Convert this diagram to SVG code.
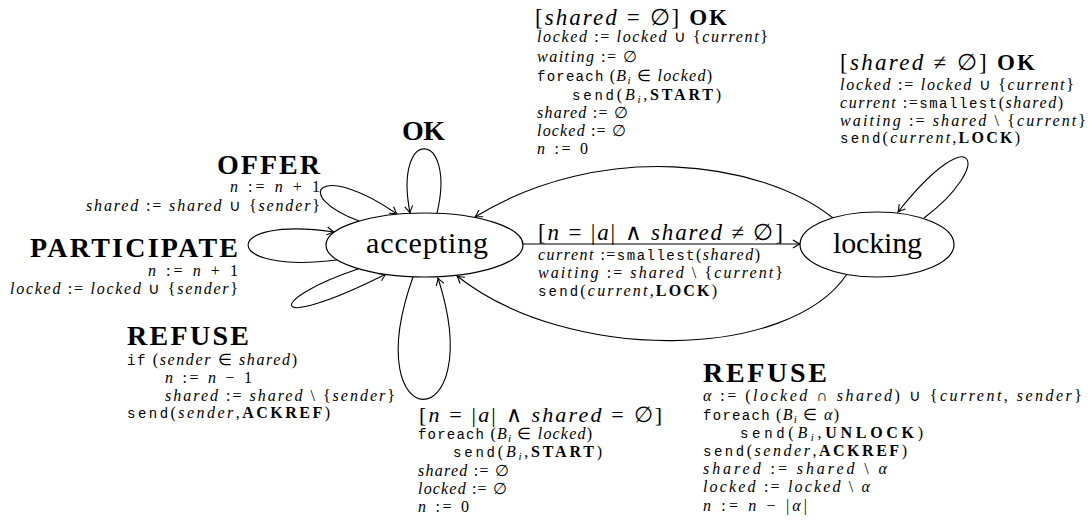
<svg xmlns="http://www.w3.org/2000/svg" width="1092" height="522" viewBox="0 0 1092 522">
<defs>
<style>
.t{font-family:"Liberation Serif",serif;font-size:16px;fill:#000}
.i{font-style:italic}
.tt{font-family:"Liberation Mono",monospace;font-size:14px;font-style:normal}
.bf{font-weight:bold;font-style:normal}
.L{font-size:23px}
.H{font-family:"Liberation Serif",serif;font-size:28px;font-weight:bold;fill:#000}
.nt{font-family:"Liberation Serif",serif;font-size:30px;fill:#000}
.node{fill:#fff;stroke:#000;stroke-width:1.2}
.e{fill:none;stroke:#000;stroke-width:1.1}
.sub{font-size:11px;font-style:italic}
</style>
<marker id="arr" viewBox="-8 -5 10 10" markerWidth="10" markerHeight="10" refX="0" refY="0" orient="auto" markerUnits="userSpaceOnUse" overflow="visible">
<path d="M -7 -4 Q -2.5 -1 0 0 Q -2.5 1 -7 4" fill="none" stroke="#000" stroke-width="1.1"/>
</marker>
</defs>
<rect width="1092" height="522" fill="#fff"/>

<g id="connectors">
<path class="e" d="M 523 244 L 800 244" marker-end="url(#arr)"/>
<path class="e" d="M 833 218 C 760 160, 600 140, 475 217" marker-end="url(#arr)"/>
<path class="e" d="M 847 274 C 790 360, 570 365, 457 276" marker-end="url(#arr)"/>
<path class="e" d="M 924 218 C 995 165, 975 115, 898 212" marker-end="url(#arr)"/>
<path class="e" d="M 437 213 C 457 130, 393 125, 410 213" marker-end="url(#arr)"/>
<path class="e" d="M 359 221 C 290 195, 320 160, 397 214" marker-end="url(#arr)"/>
<path class="e" d="M 337 260 C 219 275, 219 215, 334 232" marker-end="url(#arr)"/>
<path class="e" d="M 358 269 C 265 300, 265 335, 386 274" marker-end="url(#arr)"/>
<path class="e" d="M 413 277 C 355 440, 490 440, 438 278" marker-end="url(#arr)"/>
</g>

<g id="accepting">
<ellipse class="node" cx="424.5" cy="245" rx="98.5" ry="32"/>
<text class="nt" x="366" y="253" textLength="122">accepting</text>
</g>

<g id="locking">
<ellipse class="node" cx="877" cy="244.5" rx="77" ry="32.5"/>
<text class="nt" x="833" y="253" textLength="89">locking</text>
</g>

<g id="label-ok-empty">
<text class="t L" x="535" y="25" textLength="192">[<tspan class="i">shared</tspan> = ∅] <tspan class="bf">OK</tspan></text>
<text class="t" x="537" y="42" textLength="231"><tspan class="i">locked</tspan> := <tspan class="i">locked</tspan> ∪ {<tspan class="i">current</tspan>}</text>
<text class="t" x="537" y="62" textLength="100"><tspan class="i">waiting</tspan> := ∅</text>
<text class="t" x="537" y="81" textLength="175"><tspan class="tt">foreach</tspan> (<tspan class="i">B</tspan><tspan class="sub" dy="3">i</tspan><tspan dy="-3"> ∈ </tspan><tspan class="i">locked</tspan>)</text>
<text class="t" x="572" y="100" textLength="149"><tspan class="tt">send</tspan>(<tspan class="i">B</tspan><tspan class="sub" dy="3">i</tspan><tspan dy="-3">,</tspan><tspan class="bf">START</tspan>)</text>
<text class="t" x="537" y="118" textLength="91"><tspan class="i">shared</tspan> := ∅</text>
<text class="t" x="537" y="136" textLength="89"><tspan class="i">locked</tspan> := ∅</text>
<text class="t" x="537" y="154" textLength="51"><tspan class="i">n</tspan> := 0</text>
</g>

<g id="label-ok-nonempty">
<text class="t L" x="840" y="70" textLength="195">[<tspan class="i">shared</tspan> ≠ ∅] <tspan class="bf">OK</tspan></text>
<text class="t" x="840" y="90" textLength="234"><tspan class="i">locked</tspan> := <tspan class="i">locked</tspan> ∪ {<tspan class="i">current</tspan>}</text>
<text class="t" x="840" y="108" textLength="223"><tspan class="i">current</tspan> :=<tspan class="tt">smallest</tspan>(<tspan class="i">shared</tspan>)</text>
<text class="t" x="840" y="126" textLength="246"><tspan class="i">waiting</tspan> := <tspan class="i">shared</tspan> \ {<tspan class="i">current</tspan>}</text>
<text class="t" x="840" y="143" textLength="180"><tspan class="tt">send</tspan>(<tspan class="i">current</tspan>,<tspan class="bf">LOCK</tspan>)</text>
</g>

<g id="label-lock">
<text class="t L" x="538" y="240" textLength="245">[<tspan class="i">n</tspan> = |<tspan class="i">a</tspan>| ∧ <tspan class="i">shared</tspan> ≠ ∅]</text>
<text class="t" x="538" y="260" textLength="222"><tspan class="i">current</tspan> :=<tspan class="tt">smallest</tspan>(<tspan class="i">shared</tspan>)</text>
<text class="t" x="538" y="278" textLength="245"><tspan class="i">waiting</tspan> := <tspan class="i">shared</tspan> \ {<tspan class="i">current</tspan>}</text>
<text class="t" x="538" y="296" textLength="179"><tspan class="tt">send</tspan>(<tspan class="i">current</tspan>,<tspan class="bf">LOCK</tspan>)</text>
</g>

<g id="label-ok">
<text class="H" x="402" y="140" textLength="43">OK</text>
</g>

<g id="label-offer">
<text class="H" x="320" y="174" text-anchor="end" textLength="103">OFFER</text>
<text class="t" x="320" y="192" text-anchor="end" textLength="90"><tspan class="i">n</tspan> := <tspan class="i">n</tspan> + 1</text>
<text class="t" x="320" y="211" text-anchor="end" textLength="234"><tspan class="i">shared</tspan> := <tspan class="i">shared</tspan> ∪ {<tspan class="i">sender</tspan>}</text>
</g>

<g id="label-participate">
<text class="H" x="238" y="257" text-anchor="end" textLength="208">PARTICIPATE</text>
<text class="t" x="238" y="276" text-anchor="end" textLength="90"><tspan class="i">n</tspan> := <tspan class="i">n</tspan> + 1</text>
<text class="t" x="238" y="294" text-anchor="end" textLength="228"><tspan class="i">locked</tspan> := <tspan class="i">locked</tspan> ∪ {<tspan class="i">sender</tspan>}</text>
</g>

<g id="label-refuse-accepting">
<text class="H" x="127" y="345" textLength="122">REFUSE</text>
<text class="t" x="127" y="365" textLength="170"><tspan class="tt">if</tspan> (<tspan class="i">sender</tspan> ∈ <tspan class="i">shared</tspan>)</text>
<text class="t" x="165" y="383" textLength="87"><tspan class="i">n</tspan> := <tspan class="i">n</tspan> − 1</text>
<text class="t" x="165" y="401" textLength="230"><tspan class="i">shared</tspan> := <tspan class="i">shared</tspan> \ {<tspan class="i">sender</tspan>}</text>
<text class="t" x="127" y="418" textLength="203"><tspan class="tt">send</tspan>(<tspan class="i">sender</tspan>,<tspan class="bf">ACKREF</tspan>)</text>
</g>

<g id="label-start">
<text class="t" x="419" y="422" textLength="243" style="font-size:22px">[<tspan class="i">n</tspan> = |<tspan class="i">a</tspan>| ∧ <tspan class="i">shared</tspan> = ∅]</text>
<text class="t" x="418" y="439" textLength="174"><tspan class="tt">foreach</tspan> (<tspan class="i">B</tspan><tspan class="sub" dy="3">i</tspan><tspan dy="-3"> ∈ </tspan><tspan class="i">locked</tspan>)</text>
<text class="t" x="453" y="457" textLength="149"><tspan class="tt">send</tspan>(<tspan class="i">B</tspan><tspan class="sub" dy="3">i</tspan><tspan dy="-3">,</tspan><tspan class="bf">START</tspan>)</text>
<text class="t" x="418" y="476" textLength="91"><tspan class="i">shared</tspan> := ∅</text>
<text class="t" x="418" y="494" textLength="89"><tspan class="i">locked</tspan> := ∅</text>
<text class="t" x="418" y="512" textLength="51"><tspan class="i">n</tspan> := 0</text>
</g>

<g id="label-refuse-locking">
<text class="H" x="703" y="382" textLength="124">REFUSE</text>
<text class="t" x="703" y="401" textLength="379"><tspan class="i">α</tspan> := (<tspan class="i">locked</tspan> ∩ <tspan class="i">shared</tspan>) ∪ {<tspan class="i">current</tspan>, <tspan class="i">sender</tspan>}</text>
<text class="t" x="703" y="420" textLength="136"><tspan class="tt">foreach</tspan> (<tspan class="i">B</tspan><tspan class="sub" dy="3">i</tspan><tspan dy="-3"> ∈ </tspan><tspan class="i">α</tspan>)</text>
<text class="t" x="740" y="438" textLength="183"><tspan class="tt">send</tspan>(<tspan class="i">B</tspan><tspan class="sub" dy="3">i</tspan><tspan dy="-3">,</tspan><tspan class="bf">UNLOCK</tspan>)</text>
<text class="t" x="703" y="456" textLength="204"><tspan class="tt">send</tspan>(<tspan class="i">sender</tspan>,<tspan class="bf">ACKREF</tspan>)</text>
<text class="t" x="703" y="474" textLength="184"><tspan class="i">shared</tspan> := <tspan class="i">shared</tspan> \ <tspan class="i">α</tspan></text>
<text class="t" x="703" y="492" textLength="167"><tspan class="i">locked</tspan> := <tspan class="i">locked</tspan> \ <tspan class="i">α</tspan></text>
<text class="t" x="703" y="511" textLength="104"><tspan class="i">n</tspan> := <tspan class="i">n</tspan> − |<tspan class="i">α</tspan>|</text>
</g>
</svg>
